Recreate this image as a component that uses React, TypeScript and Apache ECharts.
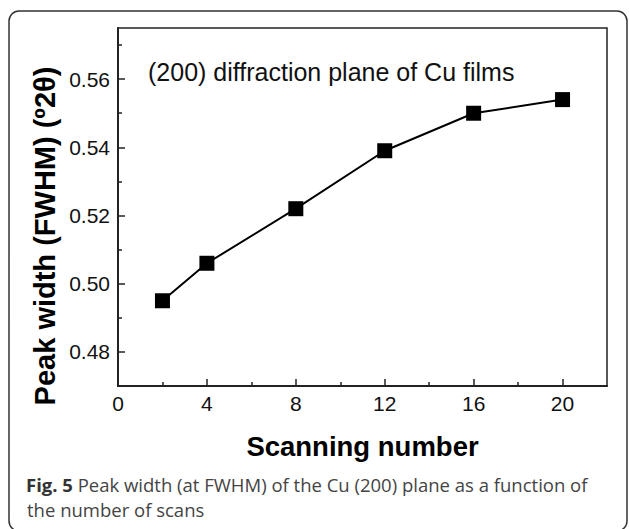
import React, { useEffect, useRef } from "react";
import * as echarts from "echarts";

const scanNumbers = [2, 4, 8, 12, 16, 20];
const peakWidths = [0.495, 0.506, 0.522, 0.539, 0.55, 0.554];
const xMajorTicks = [4, 8, 12, 16, 20];
const xMinorTicks = [2, 6, 10, 14, 18];
const xLabels = [0, 4, 8, 12, 16, 20];
const yMajorTicks = [0.48, 0.5, 0.52, 0.54, 0.56];
const yMinorTicks = [0.49, 0.51, 0.53, 0.55, 0.57];

const annotation = "(200) diffraction plane of Cu films";
const xName = "Scanning number";
const yName = "Peak width (FWHM) (º2θ)";
const captionLine1 = "{b|Fig. 5} Peak width (at FWHM) of the Cu (200) plane as a function of";
const captionLine2 = "the number of scans";

export default function App() {
  const ref = useRef<HTMLDivElement>(null);
  useEffect(() => {
    if (!ref.current) return;
    const chart = echarts.init(ref.current, null, { renderer: "svg" });
    const axisFont = { fontFamily: "Liberation Sans", fontSize: 21, color: "#111" };
    chart.setOption({
      animation: false,
      backgroundColor: "#fff",
      grid: {
        left: 118,
        top: 28,
        right: 22,
        bottom: 143,
        show: true,
        borderColor: "#222",
        borderWidth: 1.5,
      },
      xAxis: [
        {
          type: "value",
          position: "bottom",
          min: 0,
          max: 22,
          interval: 4,
          splitLine: { show: false },
          axisLine: { show: true, lineStyle: { color: "#222", width: 2 } },
          axisTick: { show: true, inside: true, length: 7, customValues: xMajorTicks, lineStyle: { color: "#222", width: 1.5 } },
          axisLabel: { ...axisFont, margin: 7, customValues: xLabels },
          name: xName,
          nameLocation: "middle",
          nameGap: 46,
          nameTextStyle: { fontFamily: "Liberation Sans", fontSize: 27.5, fontWeight: "bold", color: "#000" },
        },
        {
          type: "value",
          position: "bottom",
          offset: 0,
          min: 0,
          max: 22,
          interval: 2,
          splitLine: { show: false },
          axisLine: { show: false },
          axisTick: { show: true, inside: true, length: 4, customValues: xMinorTicks, lineStyle: { color: "#222", width: 1.5 } },
          axisLabel: { show: false },
        },
      ],
      yAxis: [
        {
          type: "value",
          position: "left",
          min: 0.47,
          max: 0.575,
          splitLine: { show: false },
          axisLine: { show: true, lineStyle: { color: "#222", width: 2 } },
          axisTick: { show: true, inside: true, length: 7, customValues: yMajorTicks, lineStyle: { color: "#222", width: 1.5 } },
          axisLabel: { ...axisFont, margin: 8, customValues: yMajorTicks, formatter: (v: number) => v.toFixed(2) },
        },
        {
          type: "value",
          position: "left",
          offset: 0,
          min: 0.47,
          max: 0.575,
          splitLine: { show: false },
          axisLine: { show: false },
          axisTick: { show: true, inside: true, length: 4, customValues: yMinorTicks, lineStyle: { color: "#222", width: 1.5 } },
          axisLabel: { show: false },
        },
      ],
      series: [
        {
          type: "line",
          xAxisIndex: 0,
          yAxisIndex: 0,
          data: scanNumbers.map((x, i) => [x, peakWidths[i]]),
          symbol: "rect",
          symbolSize: 15,
          lineStyle: { color: "#000", width: 2 },
          itemStyle: { color: "#000" },
        },
      ],
      graphic: [
        {
          type: "rect",
          shape: { x: 9, y: 11, width: 618, height: 520, r: 10 },
          style: { fill: "none", stroke: "#333", lineWidth: 1.5 },
          silent: true,
        },
        {
          type: "text",
          x: 148,
          y: 72,
          style: { text: annotation, fontFamily: "Liberation Sans", fontSize: 25, fill: "#111", verticalAlign: "middle", align: "left" },
        },
        {
          type: "text",
          x: 45,
          y: 236,
          rotation: Math.PI / 2,
          style: { text: yName, fontFamily: "Liberation Sans", fontSize: 29, fontWeight: "bold", fill: "#000", align: "center", verticalAlign: "middle" },
        },
        {
          type: "text",
          x: 26,
          y: 484,
          style: {
            text: captionLine1,
            fontFamily: "Open Sans",
            fontSize: 18.5,
            fill: "#444",
            verticalAlign: "middle",
            align: "left",
            rich: { b: { fontFamily: "Open Sans", fontSize: 18.5, fontWeight: "bold", fill: "#333" } },
          },
        },
        {
          type: "text",
          x: 27,
          y: 509,
          style: { text: captionLine2, fontFamily: "Open Sans", fontSize: 18.5, fill: "#444", verticalAlign: "middle", align: "left" },
        },
      ],
    });
    return () => chart.dispose();
  }, []);
  return <div ref={ref} style={{ position: "fixed", left: 0, top: 0, width: 629, height: 529 }} />;
}
